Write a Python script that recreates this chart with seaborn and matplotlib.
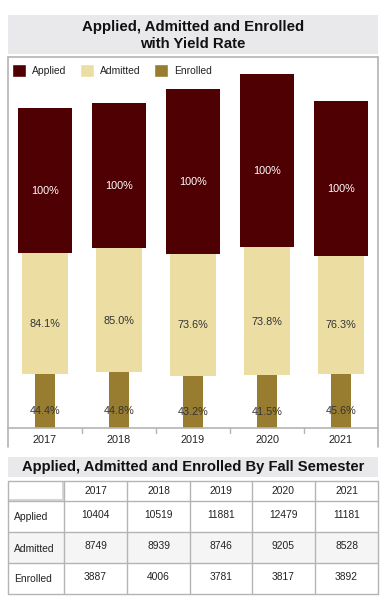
import matplotlib
matplotlib.use("Agg")
import matplotlib.pyplot as plt
from matplotlib.patches import Patch, Rectangle
from matplotlib.lines import Line2D
import seaborn as sns
import pandas as pd

# ---- data ----
years = ["2017", "2018", "2019", "2020", "2021"]
applied = [10404, 10519, 11881, 12479, 11181]
admitted = [8749, 8939, 8746, 9205, 8528]
enrolled = [3887, 4006, 3781, 3817, 3892]
admitted_pct = ["84.1%", "85.0%", "73.6%", "73.8%", "76.3%"]
enrolled_pct = ["44.4%", "44.8%", "43.2%", "41.5%", "45.6%"]
applied_pct = ["100%", "100%", "100%", "100%", "100%"]
row_labels = ["Applied", "Admitted", "Enrolled"]
title_chart = "Applied, Admitted and Enrolled\nwith Yield Rate"
title_table = "Applied, Admitted and Enrolled By Fall Semester"

c_applied = "#4f0003"
c_admitted = "#ecdea2"
c_enrolled = "#987c2f"
c_box = "#e9e9ec"
c_border = "#b4b4b4"

sns.set_theme(style="white")
plt.rcParams["font.family"] = ["Liberation Sans", "DejaVu Sans"]

W, H = 387, 606
fig = plt.figure(figsize=(W / 100, H / 100), dpi=100)

def fx(px):
    return px / W

def fy(py):
    return 1 - py / H

# ---- title box ----
fig.patches.append(Rectangle((fx(8), fy(54)), fx(370), 39 / H, transform=fig.transFigure,
                             facecolor=c_box, edgecolor="none"))
fig.text(fx(193), fy(35.5), title_chart, ha="center", va="center", fontsize=10.8,
         fontweight="bold", color="#111111", linespacing=1.25)

# ---- chart panel border ----
for xs, ys in [([8, 8], [57, 447]), ([378, 378], [57, 447]), ([8, 378], [57, 57])]:
    fig.add_artist(Line2D([fx(x) for x in xs], [fy(y) for y in ys], transform=fig.transFigure,
                          color=c_border, lw=1.2))

ax = fig.add_axes([fx(8), fy(428), fx(370), 371 / H])
df = pd.DataFrame({"year": years, "applied": applied, "admitted": admitted, "enrolled": enrolled})
bottom_adm = [e for e in enrolled]
bottom_app = [e + a for e, a in zip(enrolled, admitted)]

sns.barplot(data=df, x="year", y="enrolled", color=c_enrolled, width=0.27, ax=ax,
            saturation=1, edgecolor="none", linewidth=0)
sns.barplot(data=df, x="year", y="admitted", color=c_admitted, width=0.62, ax=ax,
            saturation=1, edgecolor="none", linewidth=0, bottom=bottom_adm)
sns.barplot(data=df, x="year", y="applied", color=c_applied, width=0.73, ax=ax,
            saturation=1, edgecolor="none", linewidth=0, bottom=bottom_app)

ax.set_xlim(-0.5, 4.5)
ax.set_ylim(0, 26750)
ax.set_yticks([])
ax.set_xlabel("")
ax.set_ylabel("")
for s in ["left", "right", "top"]:
    ax.spines[s].set_visible(False)
ax.spines["bottom"].set_color(c_border)
ax.spines["bottom"].set_linewidth(1.2)
ax.set_xticks(range(5))
ax.set_xticklabels(years, fontsize=7.8, color="#222222")
ax.tick_params(axis="x", length=0, pad=5)
for b in [0.5, 1.5, 2.5, 3.5]:
    ax.add_artist(Line2D([b, b], [0, -0.013], transform=ax.get_xaxis_transform(),
                         color=c_border, lw=1.0, clip_on=False))

for i in range(5):
    ax.annotate(enrolled_pct[i], (i, enrolled[i] / 2), xytext=(0, -7.5), textcoords="offset points",
                ha="center", va="center", fontsize=7.8, color="#333333")
    ax.annotate(admitted_pct[i], (i, enrolled[i] + admitted[i] / 2), xytext=(0, -7.5),
                textcoords="offset points", ha="center", va="center", fontsize=7.8, color="#333333")
    ax.annotate(applied_pct[i], (i, bottom_app[i] + applied[i] / 2), xytext=(0, -7.5),
                textcoords="offset points", ha="center", va="center", fontsize=7.8, color="white")

handles = [Patch(facecolor=c_applied, label="Applied"),
           Patch(facecolor=c_admitted, label="Admitted"),
           Patch(facecolor=c_enrolled, label="Enrolled")]
leg = ax.legend(handles=handles, ncol=3, loc="upper left", bbox_to_anchor=(-0.002, 0.995),
                frameon=False, fontsize=7.4, handlelength=1.3, handleheight=1.5,
                handletextpad=0.6, columnspacing=1.35, borderaxespad=0.1, borderpad=0.4)
for t in leg.get_texts():
    t.set_color("#222222")

# ---- table title ----
fig.patches.append(Rectangle((fx(8), fy(477)), fx(370), 20 / H, transform=fig.transFigure,
                             facecolor=c_box, edgecolor="none"))
fig.text(fx(193), fy(467.5), title_table, ha="center", va="center", fontsize=10.6,
         fontweight="bold", color="#111111")

# ---- table ----
tax = fig.add_axes([0, 0, 1, 1])
tax.set_xlim(0, W)
tax.set_ylim(H, 0)
tax.axis("off")
col_edges = [8, 64, 127, 190, 252, 315, 378]
row_edges = [481, 501, 532, 563, 594]
# zebra background for Admitted row
tax.add_patch(Rectangle((col_edges[0], row_edges[2]), col_edges[-1] - col_edges[0],
                        row_edges[3] - row_edges[2], facecolor="#f5f5f5", edgecolor="none"))
# shaded corner cell
tax.plot([col_edges[1] - 1.5, col_edges[1] - 1.5], [row_edges[0] + 1, row_edges[1] - 1],
         color="#d6d6d6", lw=1.5)
tax.plot([col_edges[0] + 1, col_edges[1] - 1], [row_edges[1] - 1.5, row_edges[1] - 1.5],
         color="#d6d6d6", lw=1.5)
for x in col_edges:
    tax.plot([x, x], [row_edges[0], row_edges[-1]], color=c_border, lw=1.0)
for y in row_edges:
    tax.plot([col_edges[0], col_edges[-1]], [y, y], color=c_border, lw=1.0)

tfs = 7.4
for j, yr in enumerate(years):
    cx = (col_edges[j + 1] + col_edges[j + 2]) / 2
    tax.text(cx, (row_edges[0] + row_edges[1]) / 2, yr, ha="center", va="center",
             fontsize=tfs, color="#222222")
table_rows = [applied, admitted, enrolled]
for r, (lab, vals) in enumerate(zip(row_labels, table_rows)):
    cy = (row_edges[r + 1] + row_edges[r + 2]) / 2
    tax.text(col_edges[0] + 6, cy + 1, lab, ha="left", va="center", fontsize=tfs, color="#222222")
    for j, v in enumerate(vals):
        cx = (col_edges[j + 1] + col_edges[j + 2]) / 2
        tax.text(cx, cy - 1.5, str(v), ha="center", va="center", fontsize=tfs, color="#222222")

fig.savefig("out.png", dpi=100, facecolor="white")
